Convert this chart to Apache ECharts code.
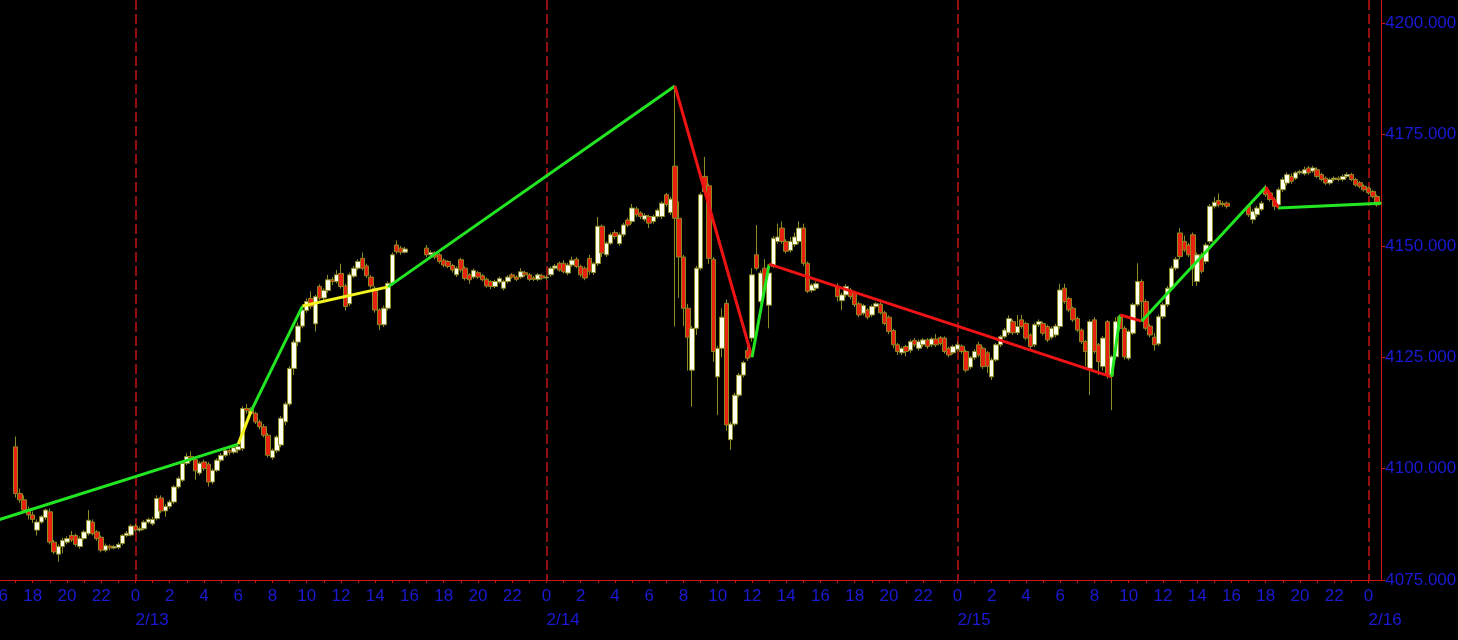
<!DOCTYPE html>
<html><head><meta charset="utf-8">
<script src="https://cdn.jsdelivr.net/npm/echarts@6/dist/echarts.min.js"></script>
<style>html,body{margin:0;padding:0;background:#000;}#chart{width:1458px;height:640px;}</style>
</head><body><div id="chart"></div>
<script>
// ---- data (15-minute bars: [open, close, low, high]) ----
const axisStartUTC = Date.UTC(2023, 1, 12, 16, 0); // first axis slot 2/12 16:00
const axisSlots = 324;                              // 2/12 16:00 .. 2/16 00:45
const priceTicks = [4075, 4100, 4125, 4150, 4175, 4200];

const session1Start = '2/12 17:00';
const session1 = [
[4104.9,4094.4,4093.5,4107.2],[4094.4,4093.0,4092.3,4095.5],[4093.0,4090.7,4090.0,4094.0],[4090.7,4089.6,4088.6,4091.5],
[4089.6,4088.6,4087.8,4090.4],[4086.2,4088.0,4085.0,4088.6],[4088.0,4089.2,4087.6,4089.6],[4089.0,4090.7,4088.5,4091.0],
[4090.3,4083.5,4083.0,4091.0],[4083.5,4081.3,4080.8,4084.0],[4080.8,4082.5,4079.1,4083.0],[4082.5,4083.9,4081.0,4084.5],
[4083.5,4084.3,4083.0,4084.8],[4085.0,4084.0,4083.5,4086.0],[4085.0,4083.0,4082.5,4085.4],[4082.5,4084.3,4082.0,4084.8],
[4084.3,4085.8,4084.0,4086.2],[4085.4,4088.4,4085.0,4090.7],[4088.0,4085.4,4085.0,4088.6],[4085.8,4084.3,4083.8,4086.2],
[4084.6,4081.7,4081.2,4085.0],[4081.7,4082.7,4081.2,4083.2],[4082.6,4082.2,4081.7,4083.0],[4082.2,4082.5,4081.9,4082.9],
[4082.3,4083.0,4081.9,4083.4],[4083.2,4085.0,4082.8,4085.3],[4085.0,4085.5,4084.6,4086.0],[4085.1,4087.1,4084.8,4087.5],
[4087.1,4086.2,4085.8,4087.6],[4086.2,4086.5,4085.8,4087.0],[4086.5,4088.0,4086.2,4088.4],[4088.0,4088.6,4087.6,4089.0],
[4087.6,4088.6,4087.2,4089.2],[4088.8,4093.3,4088.4,4094.0],[4093.4,4090.5,4090.0,4094.0],[4090.5,4091.5,4089.2,4092.0],
[4091.5,4092.5,4091.0,4093.0],[4092.5,4095.9,4092.0,4096.3],[4095.9,4097.8,4095.5,4098.2],[4097.4,4101.2,4097.0,4101.6],
[4101.2,4102.7,4100.8,4103.4],[4102.7,4102.0,4101.5,4103.9],[4102.0,4099.5,4097.5,4102.7],[4099.0,4101.2,4098.5,4101.6],
[4101.5,4100.0,4099.5,4102.0],[4101.0,4097.0,4096.0,4101.5],[4097.0,4099.6,4096.5,4100.0],[4099.6,4101.9,4099.2,4102.3],
[4101.9,4103.0,4101.5,4103.5],[4103.0,4104.1,4102.6,4104.5],[4104.1,4103.7,4103.0,4104.8],[4103.7,4104.7,4103.3,4105.1],
[4104.2,4105.0,4103.5,4105.5],[4104.5,4113.5,4104.0,4114.0],[4113.5,4113.0,4112.3,4114.5],[4113.3,4112.4,4111.8,4113.8],
[4112.4,4110.5,4110.0,4112.8],[4110.5,4109.4,4108.8,4111.0],[4109.4,4107.5,4107.0,4110.0],[4107.5,4103.0,4102.5,4108.0],
[4102.5,4104.1,4102.0,4104.5],[4104.0,4107.1,4103.5,4107.5],[4105.3,4111.3,4104.8,4111.8],[4110.5,4114.5,4109.8,4115.0],
[4114.5,4122.5,4114.0,4123.0],[4122.5,4128.4,4121.0,4129.0],[4128.4,4132.0,4127.5,4132.8],[4132.0,4135.6,4131.5,4136.4],
[4135.5,4137.5,4135.0,4138.2],[4138.2,4136.4,4135.8,4139.8],[4132.5,4138.6,4130.8,4139.0],[4140.9,4138.3,4137.8,4141.4],
[4138.3,4140.0,4137.8,4140.5],[4140.0,4142.4,4139.5,4143.5],[4142.4,4142.0,4141.2,4143.0],[4142.0,4143.5,4141.6,4144.6],
[4143.8,4140.9,4140.4,4146.0],[4141.0,4136.4,4135.5,4141.5],[4137.0,4143.5,4136.5,4144.0],[4143.2,4145.0,4142.8,4145.5],
[4145.0,4146.5,4144.6,4147.0],[4147.2,4145.0,4144.5,4148.5],[4145.5,4143.3,4142.8,4146.0],[4143.0,4141.0,4140.4,4143.5],
[4140.5,4135.6,4135.0,4141.0],[4135.6,4132.3,4131.1,4136.0],[4132.3,4136.0,4131.8,4136.6],[4136.0,4141.6,4135.5,4142.0],
[4141.6,4148.0,4141.0,4148.5],[4150.2,4148.7,4148.2,4151.2],[4149.5,4148.6,4148.0,4150.0],[4148.6,4149.3,4148.3,4149.8]
];

const session2Start = '2/13 17:00';
const session2 = [
[4149.5,4148.0,4147.5,4150.2],[4148.0,4148.5,4147.6,4149.0],[4148.3,4147.5,4147.0,4148.8],[4148.0,4146.5,4146.0,4148.4],
[4146.8,4145.7,4145.2,4147.2],[4146.5,4145.4,4145.0,4146.8],[4145.6,4144.6,4144.0,4146.0],[4143.5,4145.0,4143.0,4145.4],
[4146.9,4144.6,4144.0,4147.3],[4145.0,4142.7,4142.2,4145.4],[4143.5,4142.4,4141.5,4143.9],[4143.0,4144.5,4142.6,4144.9],
[4144.0,4143.0,4142.6,4144.4],[4143.3,4142.4,4142.0,4143.7],[4142.5,4141.0,4140.6,4142.9],[4142.0,4140.9,4140.3,4142.3],
[4140.9,4142.0,4140.5,4142.4],[4141.9,4142.7,4141.5,4143.1],[4140.5,4142.0,4140.0,4142.4],[4142.0,4143.0,4141.6,4143.4],
[4143.5,4143.0,4142.6,4143.9],[4143.0,4142.5,4142.1,4143.4],[4143.0,4144.2,4142.6,4145.0],[4144.0,4143.5,4143.1,4144.4],
[4143.5,4142.5,4142.1,4143.9],[4142.8,4142.5,4142.1,4143.2],[4142.5,4143.5,4142.1,4143.9],[4143.3,4142.8,4142.4,4143.7],
[4142.8,4143.0,4142.4,4143.4],[4143.5,4145.0,4143.1,4145.4],[4145.0,4145.5,4144.6,4145.9],[4146.1,4144.6,4144.2,4146.5],
[4146.1,4144.2,4143.8,4146.8],[4143.9,4145.7,4143.4,4146.2],[4145.7,4146.8,4145.3,4147.6],[4147.0,4145.4,4145.0,4147.5],
[4145.4,4143.5,4143.0,4145.8],[4145.0,4142.8,4142.3,4145.4],[4147.2,4144.3,4143.5,4148.0],[4144.0,4146.0,4143.5,4146.4],
[4146.0,4154.4,4145.5,4156.5],[4154.4,4148.4,4147.5,4154.8],[4148.0,4150.6,4147.5,4151.0],[4150.6,4152.5,4150.2,4153.0],
[4153.0,4152.1,4151.5,4153.6],[4150.5,4152.5,4150.0,4153.0],[4152.5,4154.7,4152.0,4155.2],[4155.8,4154.7,4154.2,4156.3],
[4155.5,4158.5,4155.0,4159.4],[4158.3,4157.0,4156.5,4158.8],[4157.4,4156.6,4156.0,4157.8],[4156.0,4156.8,4155.5,4157.3],
[4156.6,4155.1,4154.0,4157.0],[4155.5,4156.6,4155.0,4157.0],[4156.6,4158.0,4156.2,4158.4],[4156.6,4159.6,4156.0,4160.0],
[4161.5,4159.3,4158.8,4161.9],[4157.5,4160.5,4157.0,4161.0],[4167.9,4156.2,4131.9,4185.9],[4156.2,4147.5,4138.3,4160.0],
[4147.5,4136.0,4132.0,4148.0],[4136.0,4129.5,4122.0,4137.0],[4122.1,4131.5,4113.9,4132.0],[4131.5,4145.0,4130.0,4145.5],
[4145.0,4161.5,4144.5,4162.0],[4165.6,4162.2,4161.5,4170.0],[4163.5,4147.2,4146.0,4164.0],[4147.0,4126.3,4124.0,4147.5],
[4120.6,4127.0,4112.0,4127.5],[4127.0,4134.0,4125.0,4136.0],[4137.1,4109.8,4108.5,4138.0],[4106.5,4110.0,4104.2,4110.5],
[4110.0,4116.5,4109.5,4117.0],[4116.5,4121.0,4116.0,4121.5],[4121.0,4123.8,4120.5,4124.2],[4126.5,4124.8,4124.2,4127.5],
[4129.3,4143.5,4128.5,4145.0],[4148.0,4145.0,4144.5,4154.7],[4137.5,4143.9,4137.0,4144.5],[4145.0,4140.5,4140.0,4147.0],
[4136.7,4143.9,4131.5,4144.4],[4145.4,4151.7,4145.0,4152.2],[4151.0,4152.0,4150.5,4155.0],[4154.0,4151.0,4150.5,4155.5],
[4151.0,4148.8,4148.3,4151.5],[4149.0,4151.0,4148.5,4152.0],[4150.3,4152.0,4149.8,4153.0],[4151.0,4154.0,4150.5,4155.5],
[4154.0,4146.1,4145.5,4155.0],[4146.1,4139.8,4139.4,4146.5],[4140.0,4141.2,4139.5,4141.6],[4140.5,4141.5,4140.0,4142.0]
];

const session3Start = '2/14 17:00';
const session3 = [
[4140.9,4138.6,4137.5,4141.6],[4137.7,4139.0,4135.6,4139.5],[4139.0,4140.9,4138.5,4141.4],[4140.1,4138.6,4138.0,4140.6],
[4139.4,4136.8,4136.3,4139.9],[4137.0,4134.5,4134.0,4137.5],[4134.9,4136.6,4134.4,4137.0],[4135.6,4134.0,4133.5,4136.0],
[4134.5,4136.4,4134.0,4136.8],[4136.4,4137.0,4136.0,4137.4],[4136.9,4135.0,4134.6,4138.0],[4135.0,4132.6,4132.2,4135.4],
[4134.0,4130.8,4130.2,4134.4],[4131.0,4127.8,4127.0,4131.4],[4127.8,4126.3,4125.5,4128.2],[4126.0,4127.0,4125.5,4127.4],
[4127.4,4126.3,4125.2,4127.8],[4126.6,4128.5,4126.0,4129.0],[4128.8,4127.8,4127.3,4129.3],[4127.0,4128.5,4126.5,4129.0],
[4127.8,4128.9,4127.3,4129.3],[4128.9,4127.4,4126.9,4129.3],[4127.8,4129.1,4127.3,4129.5],[4129.1,4127.8,4127.3,4130.2],
[4129.4,4128.1,4127.6,4129.8],[4129.3,4126.3,4125.8,4129.7],[4127.0,4125.5,4125.0,4127.4],[4126.0,4127.4,4125.6,4127.8],
[4126.8,4127.8,4126.3,4128.5],[4127.5,4126.3,4125.8,4127.9],[4126.3,4122.1,4121.6,4126.7],[4122.8,4124.9,4122.3,4125.3],
[4124.9,4126.3,4124.4,4126.8],[4127.8,4125.5,4125.0,4128.5],[4127.0,4122.9,4122.4,4127.4],[4126.0,4123.0,4121.5,4126.4],
[4120.6,4124.4,4119.9,4124.9],[4124.4,4127.8,4124.0,4128.2],[4127.8,4129.6,4127.3,4130.0],[4129.6,4131.1,4129.2,4131.6],
[4130.5,4133.7,4130.0,4134.4],[4133.0,4130.5,4130.0,4133.5],[4130.5,4131.9,4130.0,4134.5],[4133.4,4131.9,4131.4,4134.5],
[4132.6,4129.3,4128.8,4133.0],[4130.0,4127.4,4126.9,4130.4],[4127.8,4132.3,4127.3,4132.8],[4132.3,4133.0,4131.8,4133.5],
[4132.6,4130.4,4129.9,4133.0],[4131.9,4128.9,4128.4,4132.3],[4129.5,4131.5,4129.0,4131.9],[4130.0,4132.0,4129.5,4132.5],
[4131.9,4140.1,4131.4,4141.5],[4140.5,4137.5,4137.0,4141.5],[4138.2,4135.6,4135.1,4138.6],[4136.0,4133.4,4132.9,4136.4],
[4133.7,4131.1,4130.6,4134.1],[4131.1,4128.5,4128.0,4131.5],[4128.5,4126.3,4123.0,4128.9],[4122.5,4133.0,4116.5,4133.5],
[4133.4,4126.3,4125.8,4134.0],[4127.8,4124.0,4121.0,4128.2],[4122.9,4129.3,4122.0,4129.8],[4133.0,4121.0,4120.2,4133.4],
[4121.0,4125.1,4113.1,4125.5],[4125.1,4133.0,4124.5,4134.0],[4134.1,4131.5,4131.0,4134.6],[4131.5,4125.1,4124.5,4132.0],
[4124.8,4130.8,4124.3,4131.2],[4130.4,4136.8,4130.0,4137.2],[4136.8,4142.0,4136.4,4146.1],[4142.0,4137.5,4133.1,4142.5],
[4137.5,4131.5,4131.0,4138.0],[4132.0,4130.0,4129.5,4132.5],[4129.5,4127.8,4126.5,4130.5],[4128.0,4134.1,4127.5,4134.6],
[4134.1,4136.8,4133.6,4137.3],[4136.8,4140.5,4136.3,4141.0],[4140.5,4145.0,4140.0,4145.5],[4145.0,4147.0,4144.5,4147.5],
[4152.9,4147.6,4147.0,4154.0],[4151.0,4149.1,4148.6,4152.3],[4150.2,4148.0,4147.5,4150.7],[4152.5,4145.0,4141.0,4153.0],
[4142.0,4148.0,4141.0,4148.5],[4148.0,4144.3,4143.8,4148.5],[4146.5,4150.2,4146.0,4150.7],[4151.0,4158.9,4150.5,4159.4],
[4158.9,4159.8,4158.4,4161.0],[4160.2,4159.2,4158.7,4161.8],[4159.5,4159.3,4158.8,4160.0],[4159.6,4158.9,4158.4,4160.0]
];

const session4Start = '2/15 17:00';
const session4 = [
[4158.9,4157.0,4156.5,4159.4],[4155.9,4157.7,4155.0,4158.2],[4157.0,4158.5,4156.5,4159.0],[4158.2,4159.6,4157.8,4160.1],
[4163.0,4161.5,4161.0,4163.7],[4161.9,4160.4,4160.0,4162.4],[4160.4,4158.9,4158.0,4160.9],[4159.2,4162.6,4158.2,4163.1],
[4162.6,4164.9,4162.1,4165.4],[4164.1,4166.0,4163.6,4166.5],[4165.6,4164.5,4164.0,4166.3],[4165.2,4166.4,4164.8,4166.8],
[4166.4,4166.7,4166.0,4167.1],[4166.2,4167.1,4165.8,4167.8],[4167.5,4166.4,4166.0,4168.0],[4166.8,4167.5,4166.4,4168.0],
[4167.1,4165.6,4165.2,4167.6],[4166.0,4164.9,4164.5,4166.4],[4165.2,4164.1,4163.7,4165.6],[4164.1,4164.9,4163.7,4165.3],
[4164.9,4165.2,4164.5,4165.6],[4165.2,4164.9,4164.5,4165.6],[4164.9,4165.6,4164.5,4166.0],[4165.6,4166.0,4165.2,4166.5],
[4166.0,4164.9,4164.5,4166.4],[4164.9,4163.7,4163.3,4165.3],[4164.2,4163.4,4162.9,4164.6],[4163.4,4162.6,4162.2,4163.8],
[4163.0,4161.9,4161.5,4163.4],[4162.2,4161.1,4160.7,4162.6],[4161.1,4159.2,4158.8,4161.5]
];

// swing (zigzag) line: turning points and the kind of each leg
const swingTimes  = ['2/12 16:00','2/13 06:00','2/13 06:45','2/13 09:45','2/13 14:45','2/14 07:30','2/14 12:00',
                     '2/14 13:00','2/15 09:00','2/15 09:30','2/15 10:45','2/15 18:00','2/15 18:45','2/16 00:45'];
const swingPrices = [4088.5, 4105.5, 4112.9, 4136.5, 4140.8, 4185.9, 4125.0,
                     4145.9, 4120.6, 4134.5, 4133.1, 4163.2, 4158.5, 4159.6];
const swingKinds  = ['up','weak','up','weak','up','down','up','down','up','down','up','down','up'];

// ---- build ----
function fmt(ms) {
  const d = new Date(ms);
  return (d.getUTCMonth() + 1) + '/' + d.getUTCDate() + ' ' +
    String(d.getUTCHours()).padStart(2, '0') + ':' + String(d.getUTCMinutes()).padStart(2, '0');
}
const cats = [];
for (let i = 0; i < axisSlots; i++) cats.push(fmt(axisStartUTC + i * 900000));

const candleRows = [];
[[session1Start, session1], [session2Start, session2], [session3Start, session3], [session4Start, session4]]
  .forEach(([start, bars]) => {
    const i0 = cats.indexOf(start);
    bars.forEach((b, k) => candleRows.push([i0 + k, b[0], b[1], b[2], b[3]]));
  });

const BLUE = '#1a1ad4', RED = '#d01414', FONT = 'Liberation Sans', FS = 17;
const swingColor = { up: '#22e622', down: '#ee1414', weak: '#f4f41e' };

const swingSeries = swingKinds.map((k, i) => ({
  type: 'line', silent: true, symbol: 'none', z: 5, animation: false,
  data: [[cats.indexOf(swingTimes[i]), swingPrices[i]], [cats.indexOf(swingTimes[i + 1]), swingPrices[i + 1]]],
  lineStyle: { color: swingColor[k], width: 3 }
}));

const isHour = v => v.endsWith(':00');
const hourOf = v => parseInt(v.split(' ')[1], 10);
const isDayStart = v => v.endsWith(' 00:00');

const chart = echarts.init(document.getElementById('chart'), null, { renderer: 'canvas' });
chart.setOption({
  backgroundColor: '#000000',
  animation: false,
  grid: { left: -1.5, right: 76.66, top: 0, bottom: 60, containLabel: false, outerBoundsMode: 'none' },
  xAxis: [{
    // hour axis
    type: 'category', data: cats, boundaryGap: false,
    axisLine: { show: true, lineStyle: { color: RED, width: 1 } },
    axisTick: { show: true, interval: (i, v) => isHour(v), length: 3, lineStyle: { color: RED } },
    axisLabel: {
      interval: (i, v) => isHour(v) && hourOf(v) % 2 === 0,
      showMinLabel: true, showMaxLabel: true,
      margin: 4, lineHeight: 24,
      formatter: v => String(hourOf(v)),
      color: BLUE, fontFamily: FONT, fontSize: FS
    },
    splitLine: { show: false }
  }, {
    // date axis (labels under midnight, dashed day dividers)
    type: 'category', data: cats, boundaryGap: false, position: 'bottom',
    axisLine: { show: false }, axisTick: { show: false },
    axisLabel: {
      interval: (i, v) => isDayStart(v),
      showMinLabel: true, showMaxLabel: true,
      margin: 28, lineHeight: 24, align: 'left',
      formatter: v => v.split(' ')[0],
      color: BLUE, fontFamily: FONT, fontSize: FS
    },
    splitLine: { show: true, interval: (i, v) => isDayStart(v),
                 lineStyle: { color: '#c41414', type: [10, 4], width: 1.5 } }
  }],
  yAxis: {
    type: 'value', position: 'right', min: 4075, max: 4205.2,
    axisLine: { show: true, lineStyle: { color: RED, width: 1 } },
    axisTick: { show: true, length: 4, customValues: priceTicks, lineStyle: { color: RED } },
    axisLabel: { customValues: priceTicks, formatter: v => v.toFixed(3), color: BLUE,
                 fontFamily: FONT, fontSize: FS, margin: 4 },
    splitLine: { show: false }
  },
  series: [{
    type: 'candlestick', data: candleRows, encode: { x: 0, y: [1, 2, 3, 4] },
    barWidth: 5,
    itemStyle: { color: '#fffff0', color0: '#e8220e', borderColor: '#8c8a22', borderColor0: '#8c8a22',
                 borderColorDoji: '#8c8a22', borderWidth: 1 }
  }].concat(swingSeries)
});
</script></body></html>
